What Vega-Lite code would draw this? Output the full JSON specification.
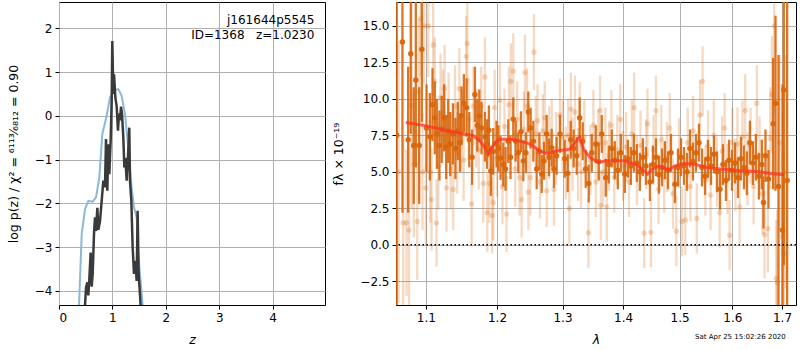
{
  "$schema": "https://vega.github.io/schema/vega-lite/v6.json",
  "padding": {"left": 6, "top": 1, "right": 1, "bottom": 0},
  "autosize": {"type": "pad"},
  "bounds": "flush",
  "spacing": 71,
  "config": {
    "font": "DejaVu Sans",
    "view": {"stroke": "black", "strokeWidth": 1},
    "axis": {"grid": true, "gridColor": "#b0b0b0", "gridWidth": 1, "domain": false, "tickColor": "black", "tickSize": 4, "labelColor": "black", "labelFontSize": 12, "labelFont": "DejaVu Sans", "titleFont": "DejaVu Sans", "titleFontSize": 12.5, "titleFontWeight": "normal", "titleColor": "black", "labelPadding": 3}
  },
  "datasets": {
    "pz_blue": [
      {"z": 0.36, "v": -5.0}, {"z": 0.375, "v": -4.32}, {"z": 0.425, "v": -2.7}, {"z": 0.487, "v": -2.13}, {"z": 0.549, "v": -1.94}, {"z": 0.631, "v": -1.96}, {"z": 0.693, "v": -1.86}, {"z": 0.755, "v": -1.41}, {"z": 0.811, "v": -0.42}, {"z": 0.892, "v": 0.0}, {"z": 0.955, "v": 0.42}, {"z": 1.048, "v": 0.59}, {"z": 1.111, "v": 0.61}, {"z": 1.173, "v": 0.46}, {"z": 1.235, "v": 0.04}, {"z": 1.298, "v": -0.72}, {"z": 1.36, "v": -1.64}, {"z": 1.404, "v": -2.09}, {"z": 1.454, "v": -2.32}, {"z": 1.485, "v": -3.16}, {"z": 1.516, "v": -3.61}, {"z": 1.566, "v": -4.32}, {"z": 1.6, "v": -5.0}
    ],
    "pz_dark": [
      {"z": 0.48, "v": -4.8}, {"z": 0.487, "v": -4.32}, {"z": 0.506, "v": -3.92}, {"z": 0.531, "v": -3.8}, {"z": 0.549, "v": -4.1}, {"z": 0.568, "v": -3.72}, {"z": 0.593, "v": -3.12}, {"z": 0.612, "v": -3.9}, {"z": 0.631, "v": -3.6}, {"z": 0.655, "v": -2.7}, {"z": 0.674, "v": -2.32}, {"z": 0.693, "v": -2.63}, {"z": 0.718, "v": -2.1}, {"z": 0.737, "v": -2.6}, {"z": 0.768, "v": -2.4}, {"z": 0.799, "v": -1.94}, {"z": 0.83, "v": -1.48}, {"z": 0.861, "v": -1.63}, {"z": 0.88, "v": -0.53}, {"z": 0.905, "v": -1.71}, {"z": 0.924, "v": -0.65}, {"z": 0.942, "v": -1.33}, {"z": 0.967, "v": -0.57}, {"z": 0.986, "v": 0.34}, {"z": 0.998, "v": 1.71}, {"z": 1.017, "v": 0.5}, {"z": 1.03, "v": 0.95}, {"z": 1.055, "v": 0.42}, {"z": 1.08, "v": 0.21}, {"z": 1.104, "v": -0.34}, {"z": 1.123, "v": 0.05}, {"z": 1.142, "v": -0.1}, {"z": 1.161, "v": 0.21}, {"z": 1.179, "v": 0.05}, {"z": 1.204, "v": -0.49}, {"z": 1.223, "v": -1.18}, {"z": 1.242, "v": -0.96}, {"z": 1.267, "v": -1.48}, {"z": 1.291, "v": -0.96}, {"z": 1.316, "v": -0.27}, {"z": 1.329, "v": -1.48}, {"z": 1.354, "v": -1.94}, {"z": 1.379, "v": -3.0}, {"z": 1.404, "v": -3.61}, {"z": 1.429, "v": -3.31}, {"z": 1.454, "v": -3.77}, {"z": 1.472, "v": -2.17}, {"z": 1.491, "v": -3.61}, {"z": 1.516, "v": -4.07}, {"z": 1.541, "v": -4.6}
    ],
    "dark": [
      {"l": 1.0615, "f": 7.5, "e": 14}, {"l": 1.069, "f": 13.9, "e": 11.7}, {"l": 1.0765, "f": 7.2, "e": 5.0}, {"l": 1.0799, "f": 13.1, "e": 5.5}, {"l": 1.0838, "f": 6.8, "e": 4.0}, {"l": 1.0866, "f": 11.3, "e": 6.0}, {"l": 1.0911, "f": 6.8, "e": 4.0}, {"l": 1.0946, "f": 13.4, "e": 5.0}, {"l": 1.1009, "f": 8.0, "e": 3.0}, {"l": 1.1054, "f": 7.4, "e": 3.0}, {"l": 1.109, "f": 9.6, "e": 2.5}, {"l": 1.1121, "f": 8.7, "e": 2.5}, {"l": 1.115, "f": 7.6, "e": 2.4}, {"l": 1.1184, "f": 6.8, "e": 2.4}, {"l": 1.1215, "f": 7.9, "e": 2.3}, {"l": 1.1249, "f": 8.7, "e": 2.3}, {"l": 1.1277, "f": 6.7, "e": 2.2}, {"l": 1.1305, "f": 7.8, "e": 2.2}, {"l": 1.1333, "f": 6.9, "e": 2.2}, {"l": 1.137, "f": 7.6, "e": 2.1}, {"l": 1.1405, "f": 6.6, "e": 2.1}, {"l": 1.1438, "f": 7.8, "e": 2.0}, {"l": 1.1468, "f": 7.0, "e": 2.0}, {"l": 1.1491, "f": 8.85, "e": 2.0}, {"l": 1.1523, "f": 9.7, "e": 2.0}, {"l": 1.1562, "f": 9.4, "e": 2.0}, {"l": 1.16, "f": 7.2, "e": 1.9}, {"l": 1.164, "f": 6.0, "e": 1.9}, {"l": 1.168, "f": 10.3, "e": 1.9}, {"l": 1.1714, "f": 8.2, "e": 1.8}, {"l": 1.1743, "f": 8.85, "e": 1.8}, {"l": 1.1775, "f": 8.0, "e": 1.8}, {"l": 1.1824, "f": 7.4, "e": 1.7}, {"l": 1.1855, "f": 6.9, "e": 1.7}, {"l": 1.1881, "f": 7.85, "e": 1.7}, {"l": 1.191, "f": 5.05, "e": 1.7}, {"l": 1.1945, "f": 6.4, "e": 1.6}, {"l": 1.1993, "f": 6.9, "e": 1.6}, {"l": 1.202, "f": 6.6, "e": 1.6}, {"l": 1.2052, "f": 5.95, "e": 1.5}, {"l": 1.2092, "f": 5.5, "e": 1.5}, {"l": 1.2126, "f": 5.2, "e": 1.5}, {"l": 1.2166, "f": 7.1, "e": 1.5}, {"l": 1.22, "f": 6.0, "e": 1.5}, {"l": 1.2241, "f": 8.6, "e": 1.5}, {"l": 1.2276, "f": 7.1, "e": 1.4}, {"l": 1.2316, "f": 6.3, "e": 1.4}, {"l": 1.2356, "f": 7.75, "e": 1.4}, {"l": 1.2392, "f": 5.75, "e": 1.4}, {"l": 1.2432, "f": 6.3, "e": 1.4}, {"l": 1.2468, "f": 9.1, "e": 1.4}, {"l": 1.2503, "f": 8.0, "e": 1.4}, {"l": 1.2545, "f": 7.1, "e": 1.4}, {"l": 1.2596, "f": 5.2, "e": 1.4}, {"l": 1.2638, "f": 6.4, "e": 1.3}, {"l": 1.2674, "f": 4.85, "e": 1.3}, {"l": 1.271, "f": 5.75, "e": 1.3}, {"l": 1.2751, "f": 7.6, "e": 1.3}, {"l": 1.2787, "f": 6.0, "e": 1.3}, {"l": 1.2829, "f": 6.65, "e": 1.3}, {"l": 1.2865, "f": 5.2, "e": 1.3}, {"l": 1.2907, "f": 6.1, "e": 1.3}, {"l": 1.296, "f": 7.6, "e": 1.3}, {"l": 1.3035, "f": 5.9, "e": 1.3}, {"l": 1.3083, "f": 4.9, "e": 1.3}, {"l": 1.3131, "f": 7.2, "e": 1.3}, {"l": 1.3179, "f": 6.6, "e": 1.3}, {"l": 1.3228, "f": 6.1, "e": 1.3}, {"l": 1.3276, "f": 8.7, "e": 1.4}, {"l": 1.3325, "f": 7.1, "e": 1.3}, {"l": 1.3374, "f": 5.2, "e": 1.3}, {"l": 1.3423, "f": 4.2, "e": 1.3}, {"l": 1.3473, "f": 6.3, "e": 1.3}, {"l": 1.3539, "f": 6.9, "e": 1.3}, {"l": 1.3589, "f": 5.7, "e": 1.3}, {"l": 1.3639, "f": 7.6, "e": 1.3}, {"l": 1.3706, "f": 4.6, "e": 1.3}, {"l": 1.3756, "f": 5.5, "e": 1.3}, {"l": 1.3807, "f": 6.6, "e": 1.3}, {"l": 1.3858, "f": 5.8, "e": 1.3}, {"l": 1.3909, "f": 5.1, "e": 1.3}, {"l": 1.396, "f": 6.3, "e": 1.3}, {"l": 1.4029, "f": 4.85, "e": 1.3}, {"l": 1.4081, "f": 5.9, "e": 1.3}, {"l": 1.4133, "f": 5.4, "e": 1.3}, {"l": 1.4185, "f": 6.3, "e": 1.3}, {"l": 1.4237, "f": 5.6, "e": 1.3}, {"l": 1.4289, "f": 5.0, "e": 1.3}, {"l": 1.4342, "f": 6.0, "e": 1.3}, {"l": 1.4395, "f": 5.4, "e": 1.3}, {"l": 1.4466, "f": 4.3, "e": 1.3}, {"l": 1.4519, "f": 5.5, "e": 1.3}, {"l": 1.4573, "f": 6.0, "e": 1.3}, {"l": 1.4627, "f": 4.8, "e": 1.3}, {"l": 1.468, "f": 5.3, "e": 1.3}, {"l": 1.4734, "f": 5.8, "e": 1.3}, {"l": 1.4789, "f": 5.1, "e": 1.3}, {"l": 1.4843, "f": 6.3, "e": 1.3}, {"l": 1.4916, "f": 4.15, "e": 1.3}, {"l": 1.4971, "f": 5.3, "e": 1.3}, {"l": 1.5026, "f": 6.0, "e": 1.3}, {"l": 1.5081, "f": 5.4, "e": 1.3}, {"l": 1.5137, "f": 5.0, "e": 1.3}, {"l": 1.5192, "f": 6.6, "e": 1.3}, {"l": 1.5248, "f": 5.7, "e": 1.3}, {"l": 1.5304, "f": 6.3, "e": 1.3}, {"l": 1.536, "f": 7.0, "e": 1.3}, {"l": 1.5417, "f": 5.3, "e": 1.3}, {"l": 1.5474, "f": 4.7, "e": 1.3}, {"l": 1.553, "f": 5.9, "e": 1.3}, {"l": 1.5587, "f": 5.4, "e": 1.3}, {"l": 1.5645, "f": 6.2, "e": 1.3}, {"l": 1.5702, "f": 5.0, "e": 1.4}, {"l": 1.576, "f": 3.8, "e": 1.4}, {"l": 1.5817, "f": 5.5, "e": 1.4}, {"l": 1.5875, "f": 4.4, "e": 1.4}, {"l": 1.5934, "f": 5.8, "e": 1.4}, {"l": 1.5992, "f": 5.1, "e": 1.4}, {"l": 1.6051, "f": 5.6, "e": 1.4}, {"l": 1.611, "f": 4.6, "e": 1.4}, {"l": 1.6169, "f": 5.9, "e": 1.5}, {"l": 1.6229, "f": 5.3, "e": 1.5}, {"l": 1.6286, "f": 4.9, "e": 1.5}, {"l": 1.6346, "f": 7.0, "e": 1.5}, {"l": 1.6406, "f": 5.6, "e": 1.5}, {"l": 1.6466, "f": 6.0, "e": 1.6}, {"l": 1.6527, "f": 4.7, "e": 1.6}, {"l": 1.6587, "f": 5.5, "e": 1.7}, {"l": 1.662, "f": 2.9, "e": 1.8}, {"l": 1.6661, "f": 6.1, "e": 1.8}, {"l": 1.6722, "f": 4.5, "e": 2.0}, {"l": 1.6818, "f": 8.3, "e": 4.5}, {"l": 1.6866, "f": 9.7, "e": 6}, {"l": 1.6928, "f": 4.0, "e": 9}, {"l": 1.7011, "f": 1.0, "e": 10}, {"l": 1.7038, "f": 10.6, "e": 12}, {"l": 1.7108, "f": 4.4, "e": 14}
    ],
    "light": [
      {"l": 1.064, "f": 5.0, "e": 9}, {"l": 1.07, "f": 1.5, "e": 6}, {"l": 1.0743, "f": 1.5, "e": 5}, {"l": 1.0776, "f": 1.0, "e": 6}, {"l": 1.081, "f": 9.5, "e": 7}, {"l": 1.084, "f": 5.5, "e": 5}, {"l": 1.0885, "f": 1.6, "e": 4}, {"l": 1.0905, "f": 10.5, "e": 5}, {"l": 1.0933, "f": 15.5, "e": 4}, {"l": 1.0955, "f": 5.0, "e": 4}, {"l": 1.0976, "f": 15.0, "e": 4}, {"l": 1.1, "f": 3.9, "e": 4}, {"l": 1.1032, "f": 15.0, "e": 3.5}, {"l": 1.106, "f": 5.0, "e": 3.5}, {"l": 1.1077, "f": 3.1, "e": 3.5}, {"l": 1.1099, "f": 13.7, "e": 3.5}, {"l": 1.112, "f": 11.2, "e": 3}, {"l": 1.1145, "f": 1.5, "e": 3}, {"l": 1.117, "f": 5.4, "e": 3}, {"l": 1.12, "f": 10.1, "e": 3}, {"l": 1.123, "f": 9.0, "e": 3}, {"l": 1.1255, "f": 10.7, "e": 3}, {"l": 1.1282, "f": 3.9, "e": 3}, {"l": 1.131, "f": 8.8, "e": 3}, {"l": 1.134, "f": 5.2, "e": 2.8}, {"l": 1.1375, "f": 3.8, "e": 2.8}, {"l": 1.14, "f": 9.5, "e": 2.8}, {"l": 1.143, "f": 6.3, "e": 2.8}, {"l": 1.146, "f": 10.7, "e": 2.8}, {"l": 1.149, "f": 7.8, "e": 2.8}, {"l": 1.152, "f": 5.8, "e": 2.8}, {"l": 1.1555, "f": 12.9, "e": 2.8}, {"l": 1.1572, "f": 13.8, "e": 2.8}, {"l": 1.159, "f": 8.6, "e": 2.8}, {"l": 1.1633, "f": 2.8, "e": 2.8}, {"l": 1.166, "f": 9.5, "e": 2.7}, {"l": 1.17, "f": 8.0, "e": 2.7}, {"l": 1.1735, "f": 6.5, "e": 2.7}, {"l": 1.177, "f": 9.5, "e": 2.7}, {"l": 1.18, "f": 4.2, "e": 2.7}, {"l": 1.1824, "f": 11.5, "e": 2.7}, {"l": 1.1858, "f": 2.2, "e": 2.7}, {"l": 1.189, "f": 4.2, "e": 2.7}, {"l": 1.193, "f": 2.0, "e": 2.6}, {"l": 1.1945, "f": 2.9, "e": 2.6}, {"l": 1.1965, "f": 9.4, "e": 2.6}, {"l": 1.2, "f": 5.9, "e": 2.6}, {"l": 1.2042, "f": 9.9, "e": 2.6}, {"l": 1.208, "f": 4.0, "e": 2.6}, {"l": 1.211, "f": 8.1, "e": 2.6}, {"l": 1.2141, "f": 2.1, "e": 2.6}, {"l": 1.2175, "f": 9.6, "e": 2.6}, {"l": 1.2205, "f": 11.2, "e": 2.6}, {"l": 1.2241, "f": 11.9, "e": 2.6}, {"l": 1.227, "f": 5.2, "e": 2.6}, {"l": 1.23, "f": 8.6, "e": 2.6}, {"l": 1.2335, "f": 4.6, "e": 2.6}, {"l": 1.2367, "f": 3.1, "e": 2.6}, {"l": 1.24, "f": 7.9, "e": 2.6}, {"l": 1.2417, "f": 11.8, "e": 2.6}, {"l": 1.245, "f": 9.5, "e": 2.6}, {"l": 1.2468, "f": 3.6, "e": 2.6}, {"l": 1.25, "f": 4.6, "e": 2.6}, {"l": 1.2554, "f": 13.2, "e": 2.6}, {"l": 1.258, "f": 7.6, "e": 2.6}, {"l": 1.261, "f": 8.5, "e": 2.5}, {"l": 1.2648, "f": 4.3, "e": 2.5}, {"l": 1.269, "f": 7.8, "e": 2.5}, {"l": 1.272, "f": 8.7, "e": 2.5}, {"l": 1.2751, "f": 3.7, "e": 2.5}, {"l": 1.279, "f": 7.0, "e": 2.5}, {"l": 1.283, "f": 7.5, "e": 2.5}, {"l": 1.2865, "f": 3.8, "e": 2.5}, {"l": 1.29, "f": 6.6, "e": 2.5}, {"l": 1.2959, "f": 8.9, "e": 2.5}, {"l": 1.3, "f": 7.4, "e": 2.5}, {"l": 1.305, "f": 5.6, "e": 2.5}, {"l": 1.309, "f": 7.5, "e": 2.5}, {"l": 1.3109, "f": 2.5, "e": 2.5}, {"l": 1.3134, "f": 9.3, "e": 2.5}, {"l": 1.316, "f": 6.2, "e": 2.5}, {"l": 1.32, "f": 9.1, "e": 2.5}, {"l": 1.325, "f": 5.5, "e": 2.5}, {"l": 1.3276, "f": 8.65, "e": 2.5}, {"l": 1.33, "f": 5.0, "e": 2.5}, {"l": 1.335, "f": 7.4, "e": 2.5}, {"l": 1.3418, "f": 0.82, "e": 2.4}, {"l": 1.345, "f": 5.8, "e": 2.4}, {"l": 1.35, "f": 8.2, "e": 2.4}, {"l": 1.354, "f": 4.3, "e": 2.4}, {"l": 1.358, "f": 6.9, "e": 2.4}, {"l": 1.3611, "f": 9.2, "e": 2.4}, {"l": 1.3623, "f": 2.7, "e": 2.4}, {"l": 1.366, "f": 5.0, "e": 2.4}, {"l": 1.37, "f": 7.0, "e": 2.4}, {"l": 1.3723, "f": 2.6, "e": 2.4}, {"l": 1.376, "f": 6.1, "e": 2.4}, {"l": 1.38, "f": 8.2, "e": 2.4}, {"l": 1.385, "f": 4.6, "e": 2.4}, {"l": 1.39, "f": 6.5, "e": 2.4}, {"l": 1.395, "f": 8.6, "e": 2.4}, {"l": 1.4, "f": 5.4, "e": 2.4}, {"l": 1.405, "f": 6.7, "e": 2.4}, {"l": 1.41, "f": 4.3, "e": 2.4}, {"l": 1.415, "f": 7.6, "e": 2.4}, {"l": 1.419, "f": 9.4, "e": 2.4}, {"l": 1.424, "f": 5.1, "e": 2.4}, {"l": 1.43, "f": 6.8, "e": 2.4}, {"l": 1.4365, "f": 0.8, "e": 2.4}, {"l": 1.44, "f": 6.2, "e": 2.4}, {"l": 1.4423, "f": 8.3, "e": 2.4}, {"l": 1.4484, "f": 0.85, "e": 2.4}, {"l": 1.453, "f": 6.5, "e": 2.4}, {"l": 1.4573, "f": 9.2, "e": 2.4}, {"l": 1.462, "f": 3.8, "e": 2.4}, {"l": 1.467, "f": 7.2, "e": 2.4}, {"l": 1.472, "f": 4.6, "e": 2.4}, {"l": 1.477, "f": 6.0, "e": 2.4}, {"l": 1.482, "f": 8.0, "e": 2.4}, {"l": 1.488, "f": 3.5, "e": 2.4}, {"l": 1.494, "f": 0.93, "e": 2.4}, {"l": 1.499, "f": 6.3, "e": 2.4}, {"l": 1.5044, "f": 1.6, "e": 2.4}, {"l": 1.5105, "f": 1.7, "e": 2.4}, {"l": 1.515, "f": 7.0, "e": 2.4}, {"l": 1.52, "f": 4.0, "e": 2.4}, {"l": 1.525, "f": 7.8, "e": 2.4}, {"l": 1.5319, "f": 1.8, "e": 2.4}, {"l": 1.5379, "f": 8.9, "e": 2.4}, {"l": 1.5428, "f": 11.2, "e": 2.4}, {"l": 1.548, "f": 4.4, "e": 2.4}, {"l": 1.553, "f": 6.8, "e": 2.4}, {"l": 1.558, "f": 3.4, "e": 2.4}, {"l": 1.564, "f": 7.5, "e": 2.4}, {"l": 1.57, "f": 5.0, "e": 2.4}, {"l": 1.5753, "f": 2.2, "e": 2.4}, {"l": 1.58, "f": 6.4, "e": 2.4}, {"l": 1.585, "f": 8.0, "e": 2.4}, {"l": 1.59, "f": 4.5, "e": 2.4}, {"l": 1.5946, "f": 0.65, "e": 2.4}, {"l": 1.6, "f": 7.0, "e": 2.4}, {"l": 1.606, "f": 4.8, "e": 2.5}, {"l": 1.61, "f": 6.9, "e": 2.5}, {"l": 1.6143, "f": 2.6, "e": 2.5}, {"l": 1.62, "f": 7.4, "e": 2.5}, {"l": 1.6252, "f": 9.2, "e": 2.5}, {"l": 1.63, "f": 5.2, "e": 2.5}, {"l": 1.636, "f": 6.8, "e": 2.6}, {"l": 1.642, "f": 4.0, "e": 2.6}, {"l": 1.6486, "f": 9.7, "e": 2.6}, {"l": 1.654, "f": 6.1, "e": 2.7}, {"l": 1.66, "f": 3.5, "e": 2.8}, {"l": 1.6641, "f": 0.7, "e": 3}, {"l": 1.6709, "f": 1.1, "e": 3}, {"l": 1.676, "f": 7.3, "e": 3.5}, {"l": 1.6792, "f": 10.3, "e": 4}, {"l": 1.6839, "f": 15.0, "e": 6}, {"l": 1.688, "f": -2.3, "e": 4}, {"l": 1.69, "f": -2.6, "e": 5}, {"l": 1.695, "f": 7.0, "e": 6}, {"l": 1.7011, "f": 0.56, "e": 6}, {"l": 1.704, "f": -0.6, "e": 7}, {"l": 1.708, "f": 5.0, "e": 8}
    ],
    "model": [
      {"l": 1.0734, "f": 8.38}, {"l": 1.101, "f": 8.15}, {"l": 1.1237, "f": 7.88}, {"l": 1.1467, "f": 7.65}, {"l": 1.1657, "f": 7.47}, {"l": 1.1751, "f": 7.12}, {"l": 1.1824, "f": 6.66}, {"l": 1.1873, "f": 6.21}, {"l": 1.1907, "f": 6.55}, {"l": 1.1969, "f": 7.01}, {"l": 1.2043, "f": 7.24}, {"l": 1.2191, "f": 7.24}, {"l": 1.2341, "f": 7.12}, {"l": 1.2493, "f": 6.9}, {"l": 1.2647, "f": 6.44}, {"l": 1.2751, "f": 6.25}, {"l": 1.2908, "f": 6.42}, {"l": 1.312, "f": 6.55}, {"l": 1.32, "f": 7.01}, {"l": 1.3272, "f": 7.35}, {"l": 1.3337, "f": 6.55}, {"l": 1.3445, "f": 5.98}, {"l": 1.3584, "f": 5.64}, {"l": 1.3722, "f": 5.75}, {"l": 1.4006, "f": 5.75}, {"l": 1.4237, "f": 5.48}, {"l": 1.4364, "f": 5.07}, {"l": 1.4423, "f": 4.84}, {"l": 1.45, "f": 5.18}, {"l": 1.4619, "f": 5.39}, {"l": 1.48, "f": 5.14}, {"l": 1.4921, "f": 5.41}, {"l": 1.5073, "f": 5.57}, {"l": 1.5259, "f": 5.53}, {"l": 1.5509, "f": 5.3}, {"l": 1.5829, "f": 5.18}, {"l": 1.6155, "f": 5.07}, {"l": 1.6488, "f": 5.02}, {"l": 1.6759, "f": 4.88}, {"l": 1.7048, "f": 4.79}
    ],
    "labels": [
      {"line1": "j161644p5545", "line2": "ID=1368\u00a0\u00a0\u00a0z=1.0230"}
    ]
  },
  "hconcat": [
    {
      "width": 266,
      "height": 303,
      "layer": [
        {
          "data": {"name": "pz_blue"},
          "mark": {"type": "line", "color": "#8cb8dc", "strokeWidth": 2, "clip": true},
          "encoding": {
            "x": {"field": "z", "type": "quantitative", "title": "z", "scale": {"domain": [0, 4.98], "nice": false, "zero": false}, "axis": {"values": [0, 1, 2, 3, 4], "format": "d", "titleFontStyle": "italic", "titlePadding": 10}},
            "y": {"field": "v", "type": "quantitative", "title": "log p(z) / χ² = ⁶¹¹³⁄₆₈₁₂ = 0.90", "scale": {"domain": [-4.32, 2.6], "nice": false, "zero": false}, "axis": {"values": [-4, -3, -2, -1, 0, 1, 2], "format": "d", "titlePadding": 14}}
          }
        },
        {
          "data": {"name": "pz_dark"},
          "mark": {"type": "line", "color": "#3a3a3a", "strokeWidth": 2.5, "clip": true},
          "encoding": {
            "x": {"field": "z", "type": "quantitative", "title": "z"},
            "y": {"field": "v", "type": "quantitative", "title": "log p(z) / χ² = ⁶¹¹³⁄₆₈₁₂ = 0.90"}
          }
        },
        {
          "data": {"name": "labels"},
          "mark": {"type": "text", "align": "right", "baseline": "middle", "fontSize": 12, "color": "black"},
          "encoding": {"x": {"datum": 4.78}, "y": {"datum": 2.18}, "text": {"field": "line1"}}
        },
        {
          "data": {"name": "labels"},
          "mark": {"type": "text", "align": "right", "baseline": "middle", "fontSize": 12, "color": "black"},
          "encoding": {"x": {"datum": 4.78}, "y": {"datum": 1.84}, "text": {"field": "line2"}}
        }
      ]
    },
    {
      "width": 400,
      "height": 303,
      "title": {"text": "Sat Apr 25 15:02:26 2020", "orient": "bottom", "anchor": "end", "fontSize": 7, "fontWeight": "normal", "color": "black", "offset": -13, "dx": -11},
      "layer": [
        {
          "data": {"name": "light"},
          "mark": {"type": "errorbar", "color": "#d8660c", "opacity": 0.25, "thickness": 2.3, "clip": true},
          "encoding": {
            "x": {"field": "l", "type": "quantitative", "title": "λ", "scale": {"type": "log", "domain": [1.0606, 1.7294], "nice": false, "zero": false}, "axis": {"values": [1.1, 1.2, 1.3, 1.4, 1.5, 1.6, 1.7], "format": ".1f", "titleFontStyle": "italic", "titlePadding": 10}},
            "y": {"field": "f", "type": "quantitative", "title": "fλ × 10⁻¹⁹", "scale": {"domain": [-4.13, 16.64], "nice": false, "zero": false}, "axis": {"values": [-2.5, 0, 2.5, 5, 7.5, 10, 12.5, 15], "format": ".1f", "titlePadding": 14}},
            "yError": {"field": "e"}
          }
        },
        {
          "data": {"name": "light"},
          "mark": {"type": "point", "filled": true, "size": 28, "color": "#d8660c", "opacity": 0.25, "clip": true},
          "encoding": {"x": {"field": "l", "type": "quantitative", "title": "λ"}, "y": {"field": "f", "type": "quantitative", "title": "fλ × 10⁻¹⁹"}}
        },
        {
          "data": {"name": "dark"},
          "mark": {"type": "errorbar", "color": "#d8660c", "opacity": 0.9, "thickness": 2.3, "clip": true},
          "encoding": {"x": {"field": "l", "type": "quantitative", "title": "λ"}, "y": {"field": "f", "type": "quantitative", "title": "fλ × 10⁻¹⁹"}, "yError": {"field": "e"}}
        },
        {
          "data": {"name": "dark"},
          "mark": {"type": "point", "filled": true, "size": 30, "color": "#d8660c", "opacity": 0.95, "clip": true},
          "encoding": {"x": {"field": "l", "type": "quantitative", "title": "λ"}, "y": {"field": "f", "type": "quantitative", "title": "fλ × 10⁻¹⁹"}}
        },
        {
          "data": {"name": "model"},
          "mark": {"type": "line", "color": "#ff3322", "opacity": 0.75, "strokeWidth": 3, "clip": true},
          "encoding": {"x": {"field": "l", "type": "quantitative", "title": "λ"}, "y": {"field": "f", "type": "quantitative", "title": "fλ × 10⁻¹⁹"}}
        },
        {
          "data": {"name": "labels"},
          "mark": {"type": "rule", "color": "black", "strokeDash": [1.5, 2.5], "strokeWidth": 1.5},
          "encoding": {"y": {"datum": 0}}
        }
      ]
    }
  ]
}
